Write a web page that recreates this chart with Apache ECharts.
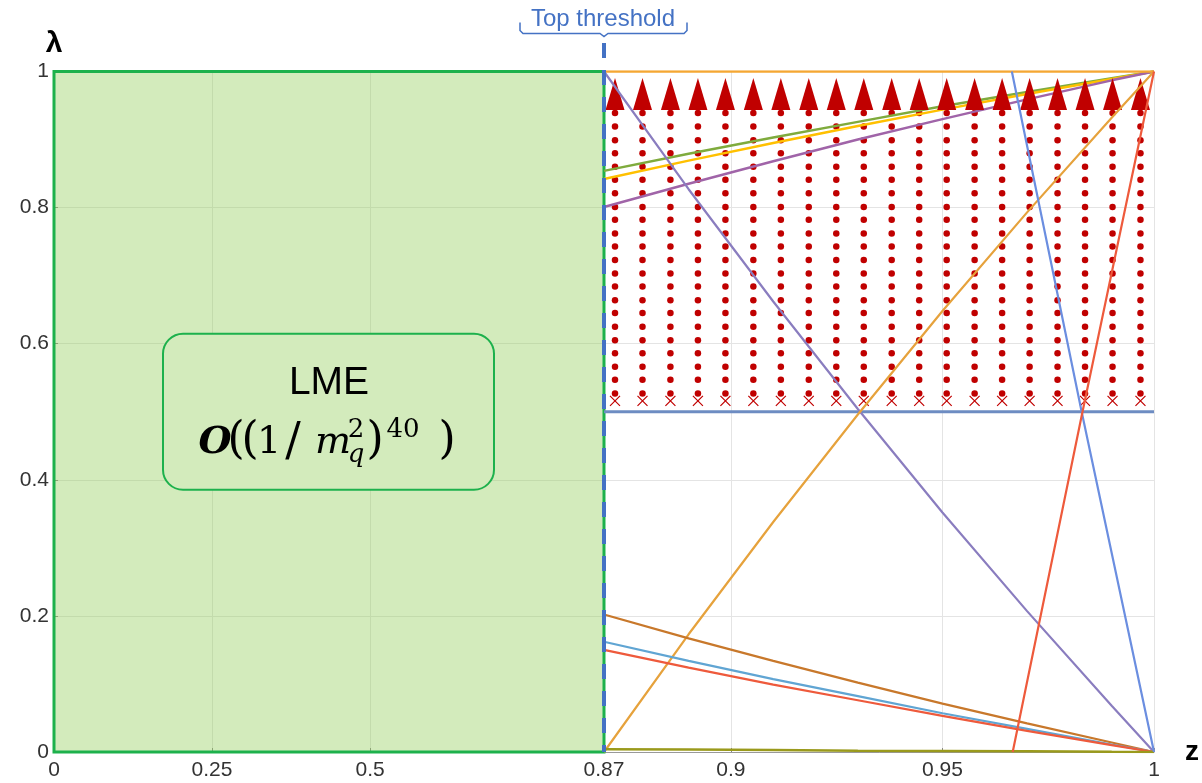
<!DOCTYPE html>
<html><head><meta charset="utf-8">
<script src="https://cdn.jsdelivr.net/npm/echarts@6/dist/echarts.min.js"></script>
<style>html,body{margin:0;padding:0;background:#fff}#c{width:1202px;height:783px}</style>
</head><body><div id="c"></div>
<script>
// ---------- data ----------
const zBreak = 0.87;
const xTickValues = [0, 0.25, 0.5, 0.87, 0.9, 0.95, 1];
const xTickLabels = ['0', '0.25', '0.5', '0.87', '0.9', '0.95', '1'];
const yTickValues = [0, 0.2, 0.4, 0.6, 0.8, 1];

const zSamples   = [0.87, 0.89, 0.91, 0.93, 0.95, 0.97, 0.99, 1];
const purpleDiag = [1, 0.827, 0.662, 0.504, 0.352, 0.207, 0.068, 0];
const orangeDiag = [0, 0.173, 0.338, 0.496, 0.648, 0.793, 0.932, 1];
const greenTop   = [0.854, 0.879, 0.903, 0.926, 0.949, 0.970, 0.990, 1];
const yellowTop  = [0.842, 0.869, 0.895, 0.920, 0.944, 0.967, 0.989, 1];
const magentaTop = [0.801, 0.835, 0.868, 0.900, 0.930, 0.959, 0.987, 1];
const brownLow   = [0.202, 0.167, 0.134, 0.102, 0.071, 0.042, 0.014, 0];
const blueLow    = [0.162, 0.134, 0.107, 0.082, 0.057, 0.034, 0.011, 0];
const redLow     = [0.150, 0.124, 0.099, 0.076, 0.053, 0.031, 0.010, 0];
const oliveLow   = [0.004, 0.0035, 0.003, 0.002, 0.0015, 0.001, 0.0003, 0];

const steepBlueZ = [0.9664, 0.9829, 1];
const steepBlueL = [1, 0.5, 0];
const steepRedZ  = [0.9666, 0.9831, 1];
const steepRedL  = [0, 0.5, 1];
const topLineZ   = [0.87, 1];
const topLineL   = [1, 1];
const halfLineZ  = [0.87, 1];
const halfLineL  = [0.5, 0.5];

const dotColumnsZ = [0.8726, 0.8791, 0.8857, 0.8922, 0.8987, 0.9053, 0.9118, 0.9184, 0.9249, 0.9314,
                     0.9380, 0.9445, 0.9510, 0.9576, 0.9641, 0.9706, 0.9772, 0.9837, 0.9902, 0.9968];
const dotRowsL = [0.527, 0.547, 0.566, 0.586, 0.605, 0.625, 0.645, 0.664, 0.684, 0.703, 0.723,
                  0.743, 0.762, 0.782, 0.801, 0.821, 0.841, 0.860, 0.880, 0.899, 0.919, 0.939];
const crossL = 0.516;
const arrowL = 0.967;

const lmeRegionZ = [0, 0.87];
const lmeRegionL = [0, 1];
const thresholdZ = 0.87;
const thresholdTopL = 1.049;
const lmeBoxCenter = [0.435, 0.5];

// ---------- helpers ----------
function toU(z) { return z <= zBreak ? z / zBreak : 1 + (z - zBreak) / (1 - zBreak); }
const xTickU = xTickValues.map(toU);
function labelFor(u) {
  let best = 0;
  for (let i = 0; i < xTickU.length; i++) if (Math.abs(xTickU[i] - u) < Math.abs(xTickU[best] - u)) best = i;
  return xTickLabels[best];
}
function pairs(zs, ls) { return zs.map((z, i) => [toU(z), ls[i]]); }

function lineSeries(zs, ls, color, width, z, extra) {
  return Object.assign({
    type: 'line', data: pairs(zs, ls), symbol: 'none', z: z, silent: true,
    lineStyle: { color: color, width: width }, animation: false
  }, extra || {});
}

const dotData = [];
dotColumnsZ.forEach(zc => dotRowsL.forEach(l => dotData.push([toU(zc), l])));
const crossData = dotColumnsZ.map(zc => [toU(zc), crossL]);
const arrowData = dotColumnsZ.map(zc => [toU(zc), arrowL]);

const chart = echarts.init(document.getElementById('c'), null, { renderer: 'canvas' });
const labelFont = 'Liberation Sans';

const option = {
  animation: false,
  backgroundColor: '#ffffff',
  grid: { left: 54, right: 44, top: 71.5, bottom: 31, containLabel: false },
  xAxis: {
    type: 'value', min: 0, max: 2,
    axisLine: { show: true, onZero: false, lineStyle: { color: '#999', width: 1 } },
    axisTick: { show: true, inside: true, length: 4, customValues: xTickU, lineStyle: { color: '#888' } },
    axisLabel: { customValues: xTickU, formatter: v => labelFor(v), margin: 8, color: '#333',
                 fontSize: 21, fontFamily: labelFont, showMinLabel: true, showMaxLabel: true, hideOverlap: false },
    splitLine: { show: true, lineStyle: { color: '#e4e4e4', width: 1 } },
    name: 'z', nameLocation: 'end', nameGap: 31,
    nameTextStyle: { fontSize: 28, fontWeight: 'bold', color: '#000', fontFamily: labelFont,
                     align: 'left', verticalAlign: 'middle', padding: [10, 0, 0, 0] }
  },
  yAxis: {
    type: 'value', min: 0, max: 1, interval: 0.2,
    axisLine: { show: true, onZero: false, lineStyle: { color: '#999', width: 1 } },
    axisTick: { show: true, inside: true, length: 4, lineStyle: { color: '#888' } },
    axisLabel: { margin: 5, color: '#333', fontSize: 21, fontFamily: labelFont,
                 formatter: v => String(+v.toFixed(1)) },
    splitLine: { show: true, lineStyle: { color: '#e4e4e4', width: 1 } },
    name: 'λ', nameLocation: 'end', nameGap: 13,
    nameTextStyle: { fontSize: 30, fontWeight: 'bold', color: '#000', fontFamily: labelFont,
                     align: 'center', verticalAlign: 'bottom' }
  },
  series: [
    { type: 'line', data: [], z: 1, silent: true,
      markArea: { silent: true,
        itemStyle: { color: 'rgba(145,205,88,0.4)', borderColor: '#1db14c', borderWidth: 3 },
        data: [[{ coord: [toU(lmeRegionZ[0]), lmeRegionL[0]] }, { coord: [toU(lmeRegionZ[1]), lmeRegionL[1]] }]] } },
    { type: 'scatter', data: dotData, symbol: 'circle', symbolSize: 6.5, z: 2, silent: true,
      itemStyle: { color: '#c00000', opacity: 1 } },
    { type: 'scatter', data: crossData, symbol: 'path://M0,0L10,10M10,0L0,10', symbolSize: 10, z: 2, silent: true,
      itemStyle: { color: 'none', borderColor: '#c00000', borderWidth: 1.2, opacity: 1 } },
    lineSeries(zSamples, greenTop, '#7fab3d', 2.5, 3),
    lineSeries(zSamples, yellowTop, '#ffc000', 2.5, 3),
    lineSeries(zSamples, magentaTop, '#a064a8', 2.5, 3),
    { type: 'scatter', data: arrowData, symbol: 'triangle', symbolSize: [19, 32], z: 4, silent: true,
      itemStyle: { color: '#c00000', opacity: 1 } },
    lineSeries(halfLineZ, halfLineL, '#6d8cc2', 3, 5),
    lineSeries(topLineZ, topLineL, '#f5a733', 2.5, 5),
    lineSeries(zSamples, purpleDiag, '#8a7dbf', 2.2, 5),
    lineSeries(zSamples, orangeDiag, '#e6a23c', 2.2, 5),
    lineSeries(zSamples, brownLow, '#c8782b', 2.2, 5),
    lineSeries(zSamples, blueLow, '#60a5d3', 2.2, 5),
    lineSeries(zSamples, redLow, '#ee5a3c', 2.2, 5),
    lineSeries(zSamples, oliveLow, '#9a9a1c', 2.5, 5),
    lineSeries(steepBlueZ, steepBlueL, '#6b8ee0', 2.2, 5),
    lineSeries(steepRedZ, steepRedL, '#ee5a3c', 2.2, 5),
    lineSeries([thresholdZ, thresholdZ], [0, thresholdTopL], '#4472c4', 4, 7,
      { clip: false, lineStyle: { color: '#4472c4', width: 4, type: [15, 12], dashOffset: 8 } })
  ]
};
chart.setOption(option);

// ---------- annotations ----------
const c = chart.convertToPixel({ gridIndex: 0 }, [toU(lmeBoxCenter[0]), lmeBoxCenter[1]]);
const t = chart.convertToPixel({ gridIndex: 0 }, [toU(thresholdZ), 1]);
const serif = '"DejaVu Serif"';
const mathPieces = [
  { s: 'O',  dx: -114, dy: 31, font: 'italic bold 38px ' + serif },
  { s: '(',  dx: -93,  dy: 30, font: '44px ' + serif },
  { s: '(',  dx: -79,  dy: 30, font: '44px ' + serif },
  { s: '1',  dx: -60,  dy: 31, font: '38px ' + serif },
  { s: '/',  dx: -36,  dy: 31, font: '46px ' + serif },
  { s: 'm',  dx: 4,    dy: 31, font: 'italic 38px ' + serif },
  { s: '2',  dx: 27,   dy: 18, font: '26px ' + serif },
  { s: 'q',  dx: 27,   dy: 43, font: 'italic 26px ' + serif },
  { s: ')',  dx: 46,   dy: 30, font: '44px ' + serif },
  { s: '40', dx: 74,   dy: 18, font: '26px ' + serif },
  { s: ')',  dx: 118,  dy: 30, font: '44px ' + serif }
];
const graphics = [
  { type: 'rect', z: 100, shape: { x: c[0] - 166, y: c[1] - 78, width: 331, height: 156, r: 20 },
    style: { fill: '#d3ebbc', stroke: '#1db14c', lineWidth: 2 } },
  { type: 'text', z: 101, x: c[0], y: c[1] - 29,
    style: { text: 'LME', font: '39px "Liberation Sans"', fill: '#000', align: 'center', verticalAlign: 'middle' } }
];
mathPieces.forEach(p => graphics.push({ type: 'text', z: 101, x: c[0] + p.dx, y: c[1] + p.dy,
  style: { text: p.s, font: p.font, fill: '#000', align: 'center', verticalAlign: 'middle' } }));
graphics.push({ type: 'text', z: 101, x: t[0] - 1, y: t[1] - 52.5,
  style: { text: 'Top threshold', font: '24px "Liberation Sans"', fill: '#4472c4', align: 'center', verticalAlign: 'middle' } });
graphics.push({ type: 'polyline', z: 101, x: t[0], y: t[1],
  shape: { points: [[-84, -49], [-84, -41], [-81, -38], [-4, -38], [0, -35], [4, -38], [80, -38], [83, -41], [83, -49]] },
  style: { stroke: '#4472c4', lineWidth: 1.5, fill: null } });
chart.setOption({ graphic: graphics });
</script></body></html>
